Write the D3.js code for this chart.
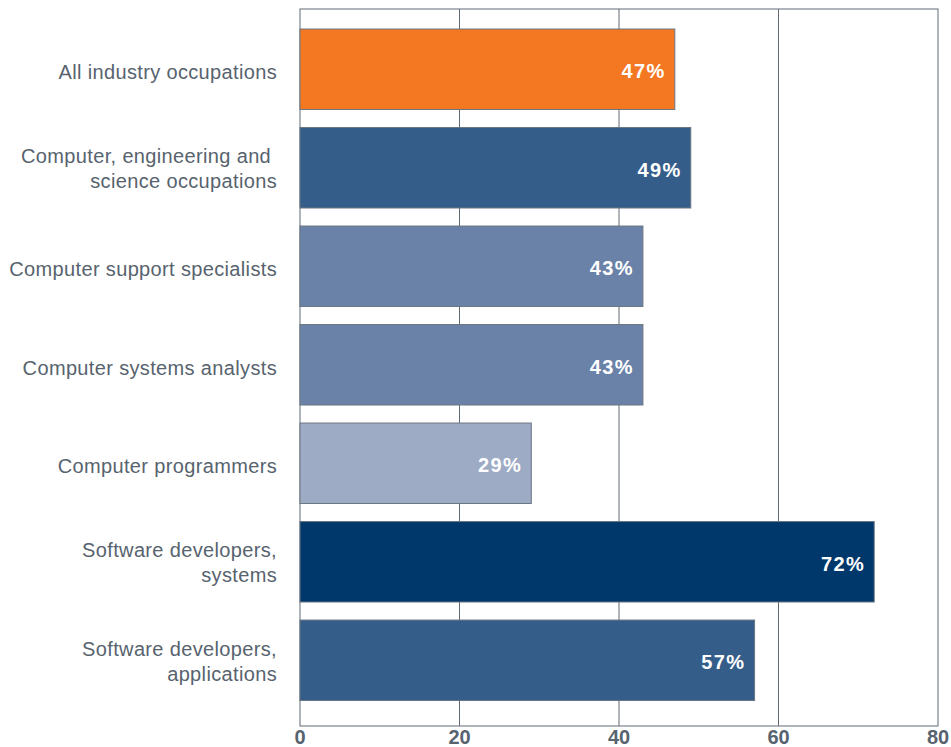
<!DOCTYPE html>
<html>
<head>
<meta charset="utf-8">
<script src="https://cdn.jsdelivr.net/npm/d3@7"></script>
<style>
  body { margin: 0; background: #fff; }
  text { font-family: "Liberation Sans", Arial, sans-serif; }
</style>
</head>
<body>
<div id="viz_container"></div>
<script>
// data
const categories = [
  ["All industry occupations"],
  ["Computer, engineering and ", "science occupations"],
  ["Computer support specialists"],
  ["Computer systems analysts"],
  ["Computer programmers"],
  ["Software developers,", "systems"],
  ["Software developers,", "applications"]
];
const values = [47, 49, 43, 43, 29, 72, 57];
const barColors = ["#f47721", "#345d8a", "#6a82a8", "#6a82a8", "#9dabc5", "#00386b", "#345d8a"];
const tickValues = [0, 20, 40, 60, 80];

const createChart = () => {
  const width = 951, height = 747;
  const plotLeft = 300, plotRight = 938, plotTop = 9, plotBottom = 726;

  const svg = d3.select("#viz_container")
    .append("svg")
    .attr("width", width)
    .attr("height", height);

  const x = d3.scaleLinear().domain([0, 80]).range([plotLeft, plotRight]);
  const y = d3.scaleBand()
    .domain(d3.range(values.length))
    .range([plotTop, plotBottom])
    .paddingInner(0.183)
    .paddingOuter(0.231)
    .align(0.44);

  // grid lines
  svg.append("g")
    .selectAll("line")
    .data(tickValues.slice(1, -1))
    .join("line")
    .attr("x1", d => x(d)).attr("x2", d => x(d))
    .attr("y1", plotTop).attr("y2", plotBottom)
    .attr("stroke", "#5f6a75")
    .attr("stroke-width", 1);

  // frame
  svg.append("rect")
    .attr("x", plotLeft).attr("y", plotTop)
    .attr("width", plotRight - plotLeft).attr("height", plotBottom - plotTop)
    .attr("fill", "none")
    .attr("stroke", "#5f6a75")
    .attr("stroke-width", 1);

  // bars
  svg.append("g")
    .selectAll("rect")
    .data(values)
    .join("rect")
    .attr("x", x(0))
    .attr("y", (d, i) => y(i))
    .attr("width", d => x(d) - x(0))
    .attr("height", y.bandwidth())
    .attr("fill", (d, i) => barColors[i])
    .attr("stroke", "#6b7682")
    .attr("stroke-width", 1);

  // value labels
  svg.append("g")
    .selectAll("text")
    .data(values)
    .join("text")
    .attr("x", d => x(d) - 9)
    .attr("y", (d, i) => y(i) + y.bandwidth() / 2)
    .attr("dy", "0.45em")
    .attr("text-anchor", "end")
    .style("font-size", "20px")
    .style("font-weight", "bold")
    .style("letter-spacing", "1.4px")
    .style("fill", "#ffffff")
    .text(d => d + "%");

  // category labels
  const labels = svg.append("g")
    .selectAll("text")
    .data(categories)
    .join("text")
    .attr("text-anchor", "end")
    .style("font-size", "20px")
    .style("letter-spacing", "0.35px")
    .style("fill", "#57636e")
    .attr("y", (d, i) => y(i) + y.bandwidth() / 2);
  labels.each(function(lines) {
    const t = d3.select(this);
    lines.forEach((line, k) => {
      t.append("tspan")
        .attr("x", 277)
        .attr("dy", k === 0 ? (lines.length > 1 ? "-0.22em" : "0.5em") : "1.25em")
        .style("white-space", "pre")
        .text(line);
    });
  });

  // x axis tick labels
  svg.append("g")
    .selectAll("text")
    .data(tickValues)
    .join("text")
    .attr("x", d => x(d))
    .attr("y", 744)
    .attr("text-anchor", "middle")
    .style("font-size", "20px")
    .style("font-weight", "bold")
    .style("fill", "#57636e")
    .text(d => d);
};

createChart();
</script>
</body>
</html>
